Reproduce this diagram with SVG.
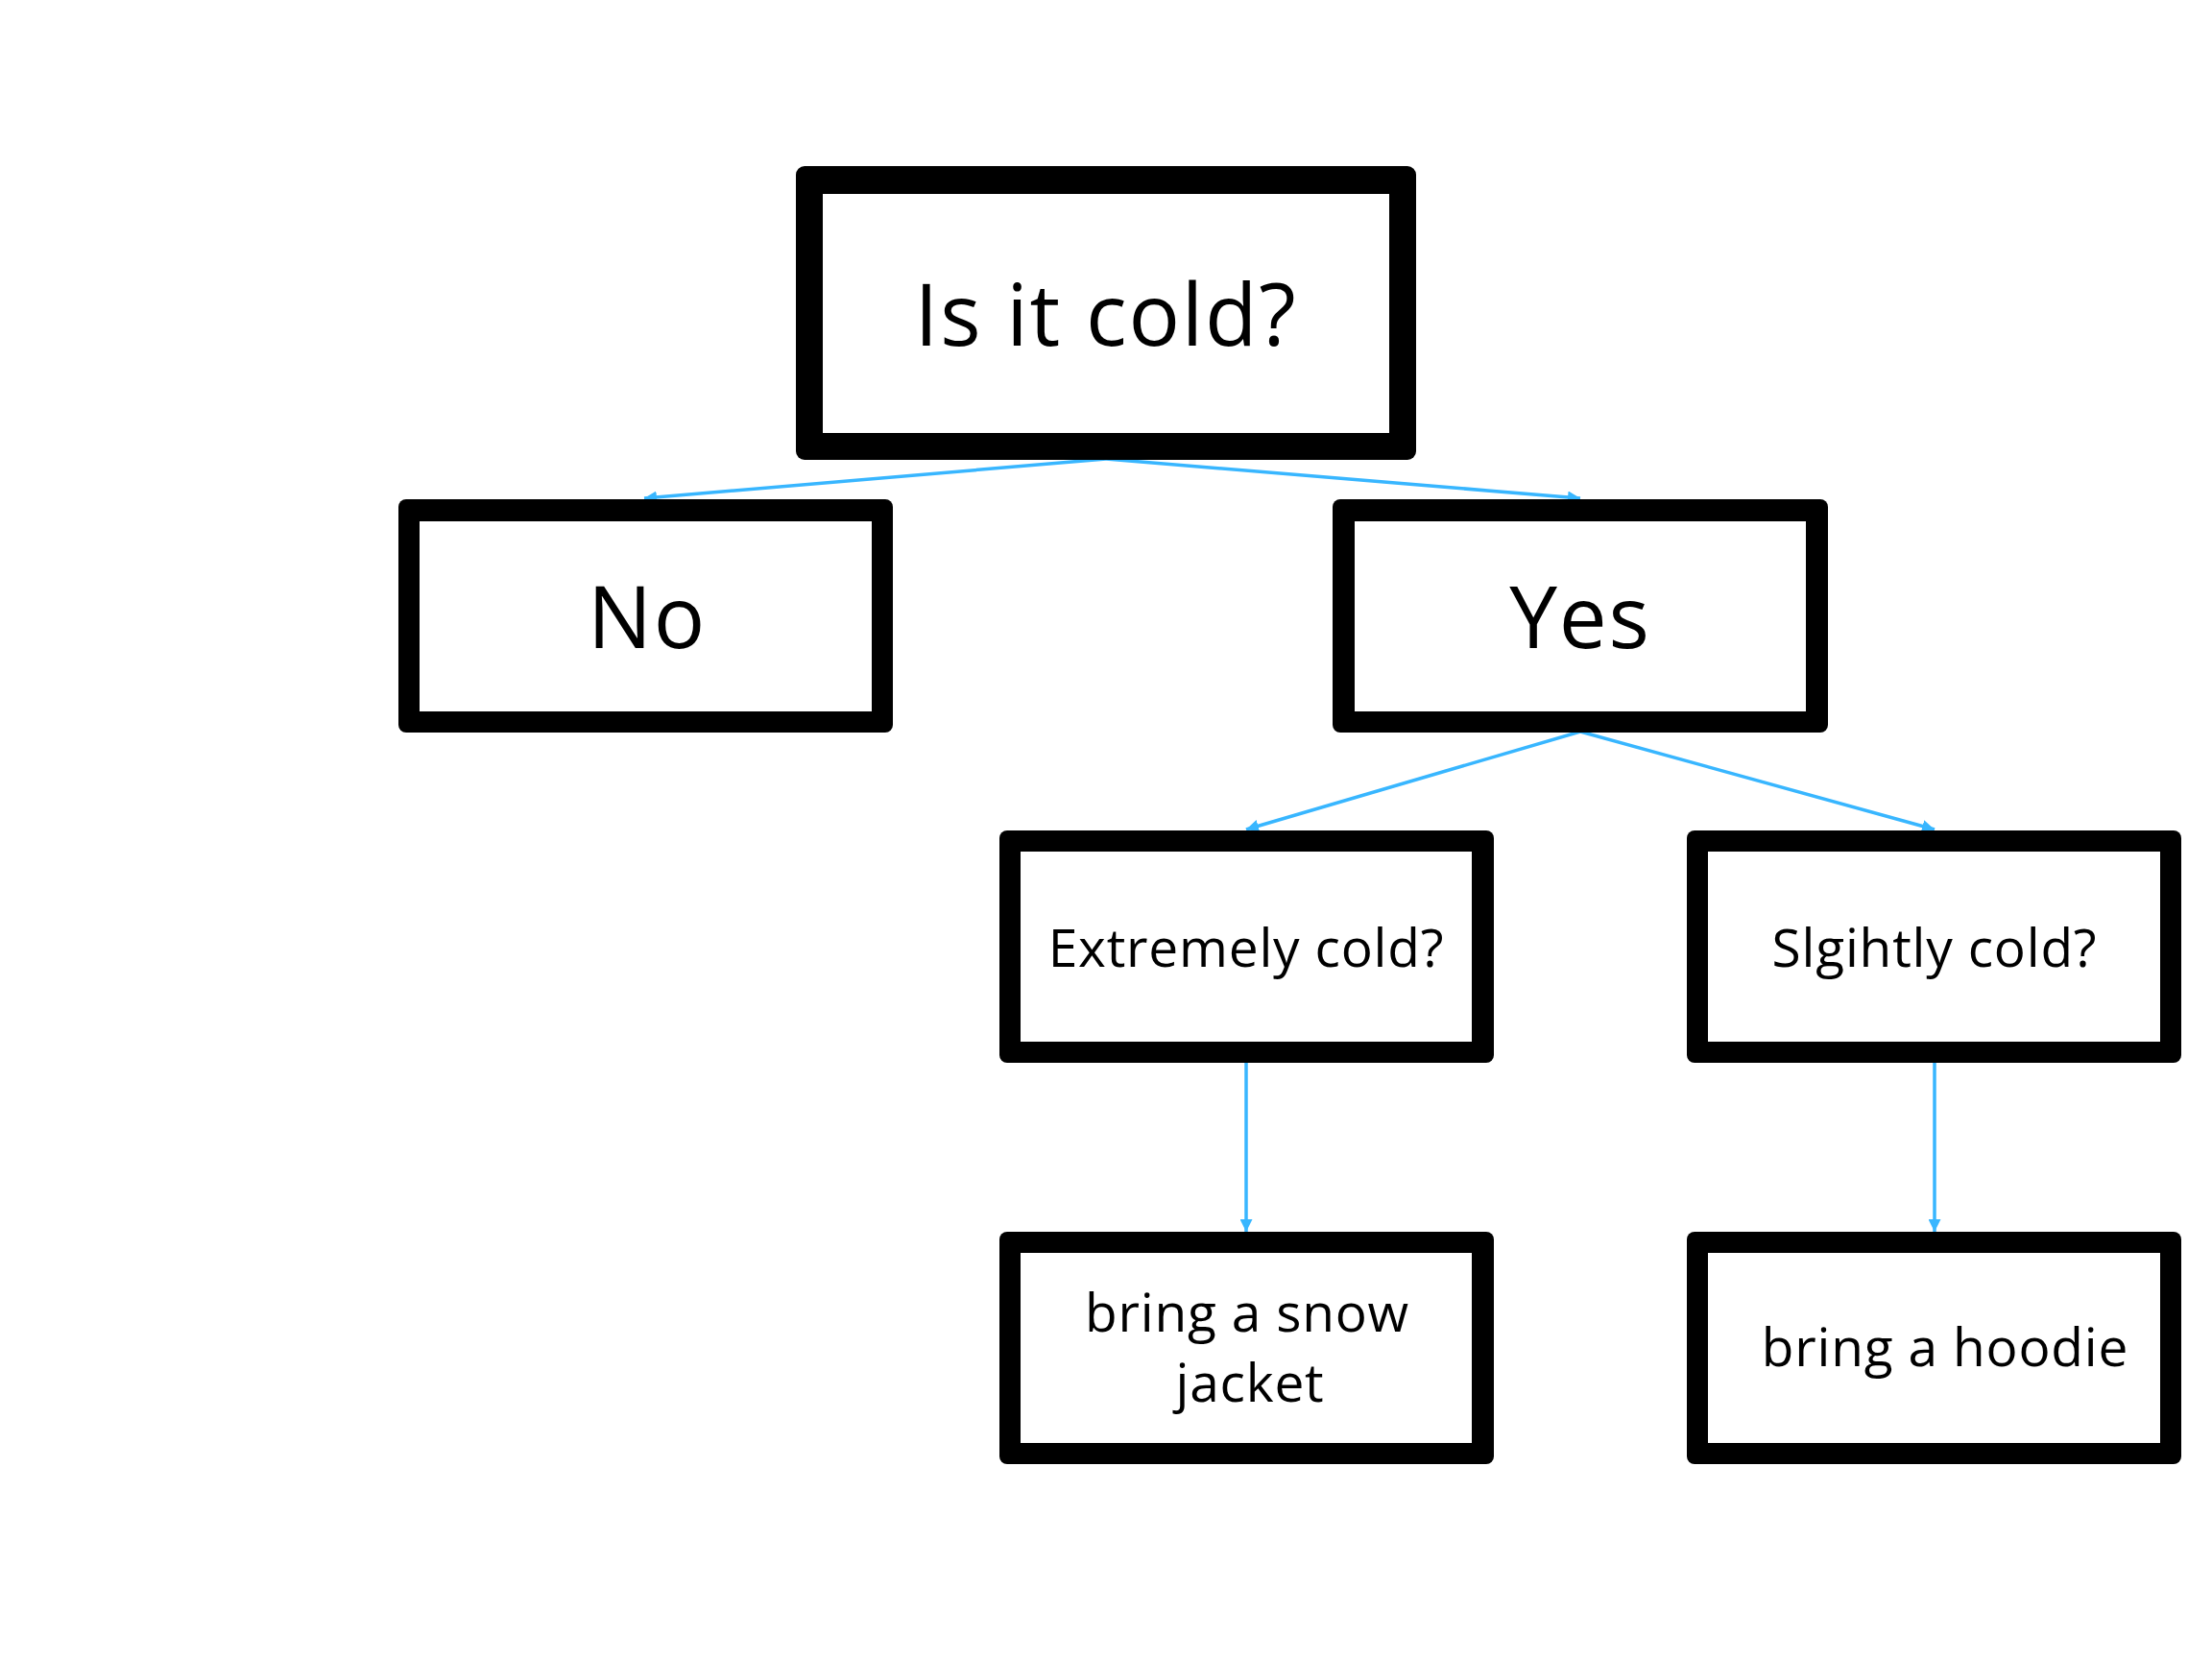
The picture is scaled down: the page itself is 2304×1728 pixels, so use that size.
<svg xmlns="http://www.w3.org/2000/svg" width="2304" height="1728" viewBox="0 0 2304 1728">
  <style>
    .frame { fill: #000000; }
    .inner { fill: #ffffff; }
    .big { font-family: "Open Sans", "Noto Sans", sans-serif; font-size: 89px; letter-spacing: 1.8px; fill: #000; text-anchor: middle; }
    .small { font-family: "Open Sans", "Noto Sans", sans-serif; font-size: 55px; letter-spacing: 0.8px; fill: #000; text-anchor: middle; }
    .conn { stroke: #38B6FF; stroke-width: 3.5; fill: none; marker-end: url(#arrow); }
  </style>
  <defs>
    <marker id="arrow" viewBox="0 0 12 12" refX="12" refY="6" markerWidth="13" markerHeight="13" markerUnits="userSpaceOnUse" orient="auto">
      <path d="M0,0 L12,6 L0,12 z" fill="#38B6FF"/>
    </marker>
  </defs>
  <rect width="2304" height="1728" fill="#ffffff"/>

  <g id="connectors">
    <line class="conn" x1="1152" y1="478" x2="671" y2="519"/>
    <line class="conn" x1="1152" y1="478" x2="1646" y2="519"/>
    <line class="conn" x1="1646" y1="762" x2="1298" y2="864"/>
    <line class="conn" x1="1646" y1="762" x2="2015" y2="864"/>
    <line class="conn" x1="1298" y1="1107" x2="1298" y2="1283"/>
    <line class="conn" x1="2015" y1="1107" x2="2015" y2="1283"/>
  </g>

  <g id="node-cold">
    <rect class="frame" x="829" y="173" width="646" height="306" rx="9"/>
    <rect class="inner" x="857" y="202" width="590" height="249"/>
    <text class="big" x="1152" y="360">Is it cold?</text>
  </g>

  <g id="node-no">
    <rect class="frame" x="415" y="520" width="515" height="243" rx="8"/>
    <rect class="inner" x="437" y="543" width="471" height="198"/>
    <text class="big" x="674" y="675">No</text>
  </g>

  <g id="node-yes">
    <rect class="frame" x="1388" y="520" width="516" height="243" rx="8"/>
    <rect class="inner" x="1411" y="543" width="470" height="198"/>
    <text class="big" x="1646" y="675">Yes</text>
  </g>

  <g id="node-extremely">
    <rect class="frame" x="1041" y="865" width="515" height="242" rx="8"/>
    <rect class="inner" x="1063" y="887" width="470" height="198"/>
    <text class="small" x="1298" y="1007">Extremely cold?</text>
  </g>

  <g id="node-slightly">
    <rect class="frame" x="1757" y="865" width="515" height="242" rx="8"/>
    <rect class="inner" x="1779" y="887" width="471" height="198"/>
    <text class="small" x="2015" y="1007">Slgihtly cold?</text>
  </g>

  <g id="node-snow">
    <rect class="frame" x="1041" y="1283" width="515" height="242" rx="8"/>
    <rect class="inner" x="1063" y="1305" width="470" height="198"/>
    <text class="small" x="1299" y="1387">bring a snow</text>
    <text class="small" x="1302" y="1460">jacket</text>
  </g>

  <g id="node-hoodie">
    <rect class="frame" x="1757" y="1283" width="515" height="242" rx="8"/>
    <rect class="inner" x="1779" y="1305" width="471" height="198"/>
    <text class="small" x="2026" y="1423">bring a hoodie</text>
  </g>
</svg>
